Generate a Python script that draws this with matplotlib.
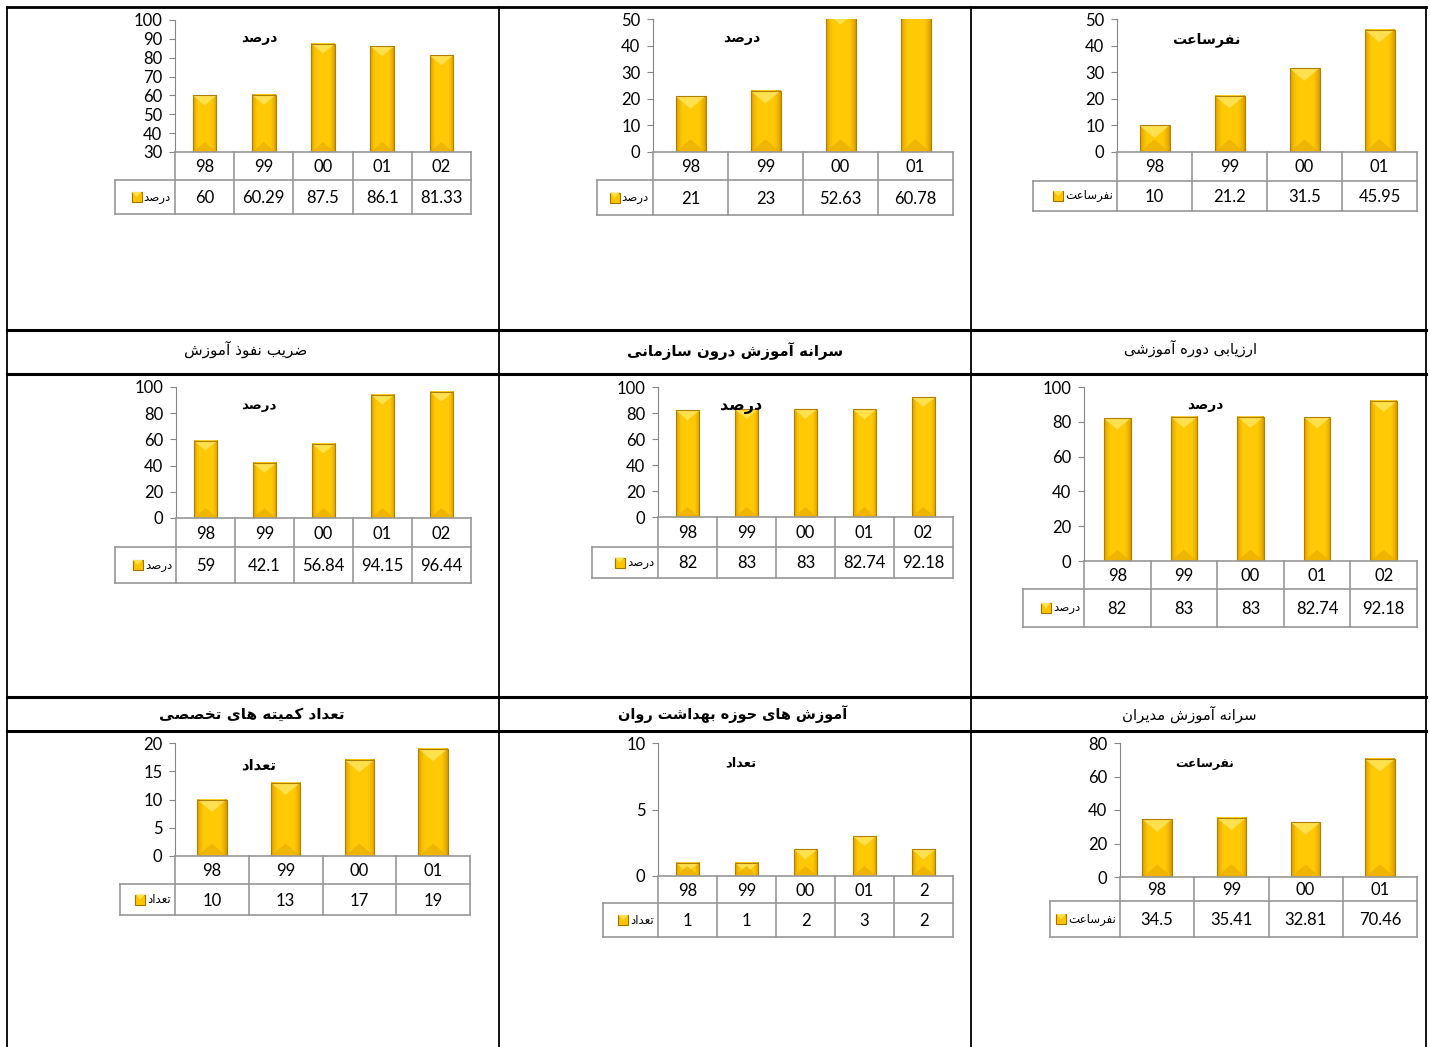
import unicodedata
import numpy as np
import matplotlib
matplotlib.use('Agg')
import matplotlib.pyplot as plt
from matplotlib.patches import Rectangle, Polygon
from matplotlib.lines import Line2D
from matplotlib.transforms import Affine2D

plt.rcParams['font.family'] = ['Lato', 'DejaVu Sans']

W, H = 1430, 1047

# ---------------- data ----------------
cats_a = ['98', '99', '00', '01', '02']
vals_a = [60, 60.29, 87.5, 86.1, 81.33]
cats_b = ['98', '99', '00', '01']
vals_b = [21, 23, 52.63, 60.78]
cats_c = ['98', '99', '00', '01']
vals_c = [10, 21.2, 31.5, 45.95]
cats_d = ['98', '99', '00', '01', '02']
vals_d = [59, 42.1, 56.84, 94.15, 96.44]
cats_e = ['98', '99', '00', '01', '02']
vals_e = [82, 83, 83, 82.74, 92.18]
cats_f = ['98', '99', '00', '01', '02']
vals_f = [82, 83, 83, 82.74, 92.18]
cats_g = ['98', '99', '00', '01']
vals_g = [10, 13, 17, 19]
cats_h = ['98', '99', '00', '01', '2']
vals_h = [1, 1, 2, 3, 2]
cats_i = ['98', '99', '00', '01']
vals_i = [34.5, 35.41, 32.81, 70.46]

series_names = ['درصد', 'درصد', 'نفرساعت',
                'درصد', 'درصد', 'درصد',
                'تعداد', 'تعداد', 'نفرساعت']
headers_row1 = ['ضریب نفوذ آموزش', 'سرانه آموزش درون سازمانی', 'ارزیابی دوره آموزشی']
headers_row2 = ['تعداد کمیته های تخصصی', 'آموزش های حوزه بهداشت روان', 'سرانه آموزش مدیران']

# ---------------- Persian shaping (presentation forms) ----------------
FORMS = {
    '\u0627': ('\uFE8D', '\uFE8E', None, None),
    '\u0622': ('\uFE81', '\uFE82', None, None),
    '\u0628': ('\uFE8F', '\uFE90', '\uFE91', '\uFE92'),
    '\u062A': ('\uFE95', '\uFE96', '\uFE97', '\uFE98'),
    '\u062D': ('\uFEA1', '\uFEA2', '\uFEA3', '\uFEA4'),
    '\u062E': ('\uFEA5', '\uFEA6', '\uFEA7', '\uFEA8'),
    '\u062F': ('\uFEA9', '\uFEAA', None, None),
    '\u0630': ('\uFEAB', '\uFEAC', None, None),
    '\u0631': ('\uFEAD', '\uFEAE', None, None),
    '\u0632': ('\uFEAF', '\uFEB0', None, None),
    '\u0633': ('\uFEB1', '\uFEB2', '\uFEB3', '\uFEB4'),
    '\u0634': ('\uFEB5', '\uFEB6', '\uFEB7', '\uFEB8'),
    '\u0635': ('\uFEB9', '\uFEBA', '\uFEBB', '\uFEBC'),
    '\u0636': ('\uFEBD', '\uFEBE', '\uFEBF', '\uFEC0'),
    '\u0639': ('\uFEC9', '\uFECA', '\uFECB', '\uFECC'),
    '\u0641': ('\uFED1', '\uFED2', '\uFED3', '\uFED4'),
    '\u06A9': ('\uFB8E', '\uFB8F', '\uFB90', '\uFB91'),
    '\u0645': ('\uFEE1', '\uFEE2', '\uFEE3', '\uFEE4'),
    '\u0646': ('\uFEE5', '\uFEE6', '\uFEE7', '\uFEE8'),
    '\u0647': ('\uFEE9', '\uFEEA', '\uFEEB', '\uFEEC'),
    '\u0648': ('\uFEED', '\uFEEE', None, None),
    '\u06CC': ('\uFBFC', '\uFBFD', '\uFBFE', '\uFBFF'),
}


def fa(text):
    text = unicodedata.normalize('NFC', text).replace('\u064A', '\u06CC').replace('\u0643', '\u06A9')
    ch = list(text)
    out = []
    for i, c in enumerate(ch):
        if c not in FORMS:
            out.append(c)
            continue
        prev = ch[i - 1] if i > 0 else None
        nxt = ch[i + 1] if i + 1 < len(ch) else None
        jp = prev in FORMS and FORMS[prev][2] is not None
        jn = nxt in FORMS and FORMS[c][2] is not None
        iso, fin, ini, med = FORMS[c]
        if jp and jn:
            g = med
        elif jp:
            g = fin
        elif jn:
            g = ini
        else:
            g = iso
        out.append(g)
    return ''.join(reversed(out))


# ---------------- figure ----------------
fig = plt.figure(figsize=(W / 100, H / 100), dpi=100)
fig.patch.set_facecolor('white')
pxT = Affine2D().scale(1.0 / W, -1.0 / H).translate(0, 1) + fig.transFigure


def add_ax(x0, y0, x1, y1):
    return fig.add_axes([x0 / W, 1 - y1 / H, (x1 - x0) / W, (y1 - y0) / H])


# bar styling
t = np.linspace(0, 1, 64)
e = np.minimum(t, 1 - t) * 2
f = np.clip(e / 0.45, 0, 1) ** 0.6
dark = np.array([0.84, 0.58, 0.0])
bright = np.array([1.0, 0.79, 0.02])
GRAD = (dark[None, :] * (1 - f[:, None]) + bright[None, :] * f[:, None])[None, :, :]
TOP = '#FFE04F'
BOT = '#EDB000'
EDGE = '#B07E00'
LINE = '#979797'
AXC = '#868686'

# layout specs (pixels): axis_x, right_x, y_top, y_zero, row1_bottom, row2_bottom, legend_left,
# ymin, ymax, step, title_center, title_width
specs = [
    (175, 471, 20, 152, 180, 214, 115, 30, 100, 10, (259, 38), 36),
    (653, 953, 19, 152, 180, 215, 597, 0, 50, 10, (742, 38), 37),
    (1117, 1417, 19, 152, 181, 211, 1033, 0, 50, 10, (1206, 40), 68),
    (176, 471, 387, 518, 547, 583, 115, 0, 100, 20, (259, 406), 35),
    (658, 953, 387, 517, 547, 578, 592, 0, 100, 20, (741, 407), 42),
    (1084, 1417, 387, 561, 589, 627, 1023, 0, 100, 20, (1205, 405), 36),
    (175, 470, 743, 856, 884, 915, 120, 0, 20, 5, (259, 765), 35),
    (658, 953, 743, 876, 903, 937, 603, 0, 10, 5, (741, 763), 31),
    (1120, 1417, 743, 877, 901, 937, 1050, 0, 80, 20, (1205, 763), 59),
]
all_cats = [cats_a, cats_b, cats_c, cats_d, cats_e, cats_f, cats_g, cats_h, cats_i]
all_vals = [vals_a, vals_b, vals_c, vals_d, vals_e, vals_f, vals_g, vals_h, vals_i]

fit_list = []
legend_items = []


def draw_chart(cats, vals, name, spec):
    ax_x, rx, yt, y0p, r1p, r2p, legl, ymin, ymax, step, (tx, ty), tw = spec
    n = len(cats)
    col_px = (rx - ax_x) / n
    per_px_y = (ymax - ymin) / (y0p - yt)
    ax = add_ax(ax_x, yt, rx, y0p)
    x = np.arange(n)
    v = np.asarray(vals, float)
    bars = ax.bar(x, v - ymin, bottom=ymin, width=0.4, color=bright, edgecolor='none', zorder=2)
    for r in bars:
        bx0, bw, by0 = r.get_x(), r.get_width(), r.get_y()
        by1 = by0 + r.get_height()
        top_vis = min(by1, ymax)
        ax.imshow(GRAD, extent=(bx0, bx0 + bw, by0, top_vis), aspect='auto',
                  interpolation='bilinear', zorder=2.1)
        d = 0.42 * bw * col_px * per_px_y
        ax.add_patch(Polygon([(bx0, by1), (bx0 + bw, by1), (bx0 + bw / 2, by1 - d)],
                             closed=True, fc=TOP, ec='none', zorder=2.2))
        ax.add_patch(Polygon([(bx0, by0), (bx0 + bw, by0), (bx0 + bw / 2, by0 + d)],
                             closed=True, fc=BOT, ec='none', alpha=0.8, zorder=2.2))
        ax.add_patch(Rectangle((bx0, by0), bw, by1 - by0, fill=False, ec=EDGE, lw=0.8, zorder=2.3))
    ax.set_xlim(-0.5, n - 0.5)
    ax.set_ylim(ymin, ymax)
    ax.set_xticks([])
    ticks = np.arange(ymin, ymax + step / 2, step)
    ax.set_yticks(ticks)
    ax.set_yticklabels([f'{int(tk)}' for tk in ticks])
    for s in ['top', 'right']:
        ax.spines[s].set_visible(False)
    ax.spines['left'].set_color(AXC)
    ax.spines['bottom'].set_color(LINE)
    ax.spines['bottom'].set_linewidth(1.2)
    ax.tick_params(axis='y', length=4, color=AXC, labelsize=12, pad=5)
    ax.patch.set_alpha(0)

    # data table
    tax = add_ax(ax_x, y0p, rx, r2p)
    h = r2p - y0p
    r1 = r1p - y0p
    tax.set_xlim(-0.5, n - 0.5)
    tax.set_ylim(h, 0)
    tax.axis('off')
    xl = -0.5 - (ax_x - legl) / col_px
    kw = dict(color=LINE, lw=1.2, clip_on=False, solid_capstyle='projecting')
    for i in range(n + 1):
        tax.plot([i - 0.5, i - 0.5], [0, h], **kw)
    tax.plot([xl, xl], [r1, h], **kw)
    tax.plot([xl, n - 0.5], [r1, r1], **kw)
    tax.plot([xl, n - 0.5], [h, h], **kw)
    for i, (c, val) in enumerate(zip(cats, vals)):
        tax.text(i, r1 / 2 + 1, c, ha='center', va='center', fontsize=12)
        tax.text(i, (r1 + h) / 2 + 1, f'{val:g}', ha='center', va='center', fontsize=12)

    # series name in row 2 (key placed after measuring)
    ymid = (r1p + r2p) / 2
    lt = fig.text(ax_x - 4, ymid, fa(name), transform=pxT, ha='right', va='center',
                  fontsize=8.5, family='DejaVu Sans')
    legend_items.append((lt, ymid))

    # title inside plot
    tt = fig.text(tx, ty, fa(name), transform=pxT, ha='center', va='center',
                  fontsize=11, fontweight='bold', family='DejaVu Sans', zorder=5)
    fit_list.append((tt, tw))


for k in range(9):
    draw_chart(all_cats[k], all_vals[k], series_names[k], specs[k])

# ---------------- frame of the layout table ----------------
for xv in [7, 499, 971, 1426]:
    fig.add_artist(Line2D([xv, xv], [7, 1047], transform=pxT, color='black', lw=1.3))
fig.add_artist(Line2D([7, 1426], [7, 7], transform=pxT, color='black', lw=2.0))
for yv in [330, 374, 697, 731]:
    fig.add_artist(Line2D([7, 1426], [yv, yv], transform=pxT, color='black', lw=2.2))

# header texts: (x_center, y_center, bold, target width)
hdr_pos1 = [(246, 349, False, 123), (735, 351, True, 216), (1191, 348, False, 133)]
hdr_pos2 = [(252, 714, True, 185), (733, 714, True, 229), (1189, 714, False, 135)]
for txt, (hx, hy, b, w) in zip(headers_row1 + headers_row2, hdr_pos1 + hdr_pos2):
    tt = fig.text(hx, hy, fa(txt), transform=pxT, ha='center', va='center', fontsize=11,
                  fontweight='bold' if b else 'normal', family='DejaVu Sans')
    fit_list.append((tt, w))

# scale Persian texts to the widths seen in the picture
renderer = fig.canvas.get_renderer()
for tt, w in fit_list:
    cur = tt.get_window_extent(renderer).width
    if cur > 0:
        tt.set_fontsize(tt.get_fontsize() * w / cur)

# legend keys left of the series names
for lt, ymid in legend_items:
    bb = lt.get_window_extent(renderer)
    kx = bb.x0 - 12
    fig.add_artist(Rectangle((kx, ymid - 5), 10, 10, transform=pxT,
                             fc='#FFC400', ec='#A07000', lw=0.8))
    fig.add_artist(Polygon([(kx, ymid - 5), (kx + 10, ymid - 5), (kx + 5, ymid)],
                           closed=True, transform=pxT, fc=TOP, ec='none'))

fig.savefig('out.png', dpi=100)
